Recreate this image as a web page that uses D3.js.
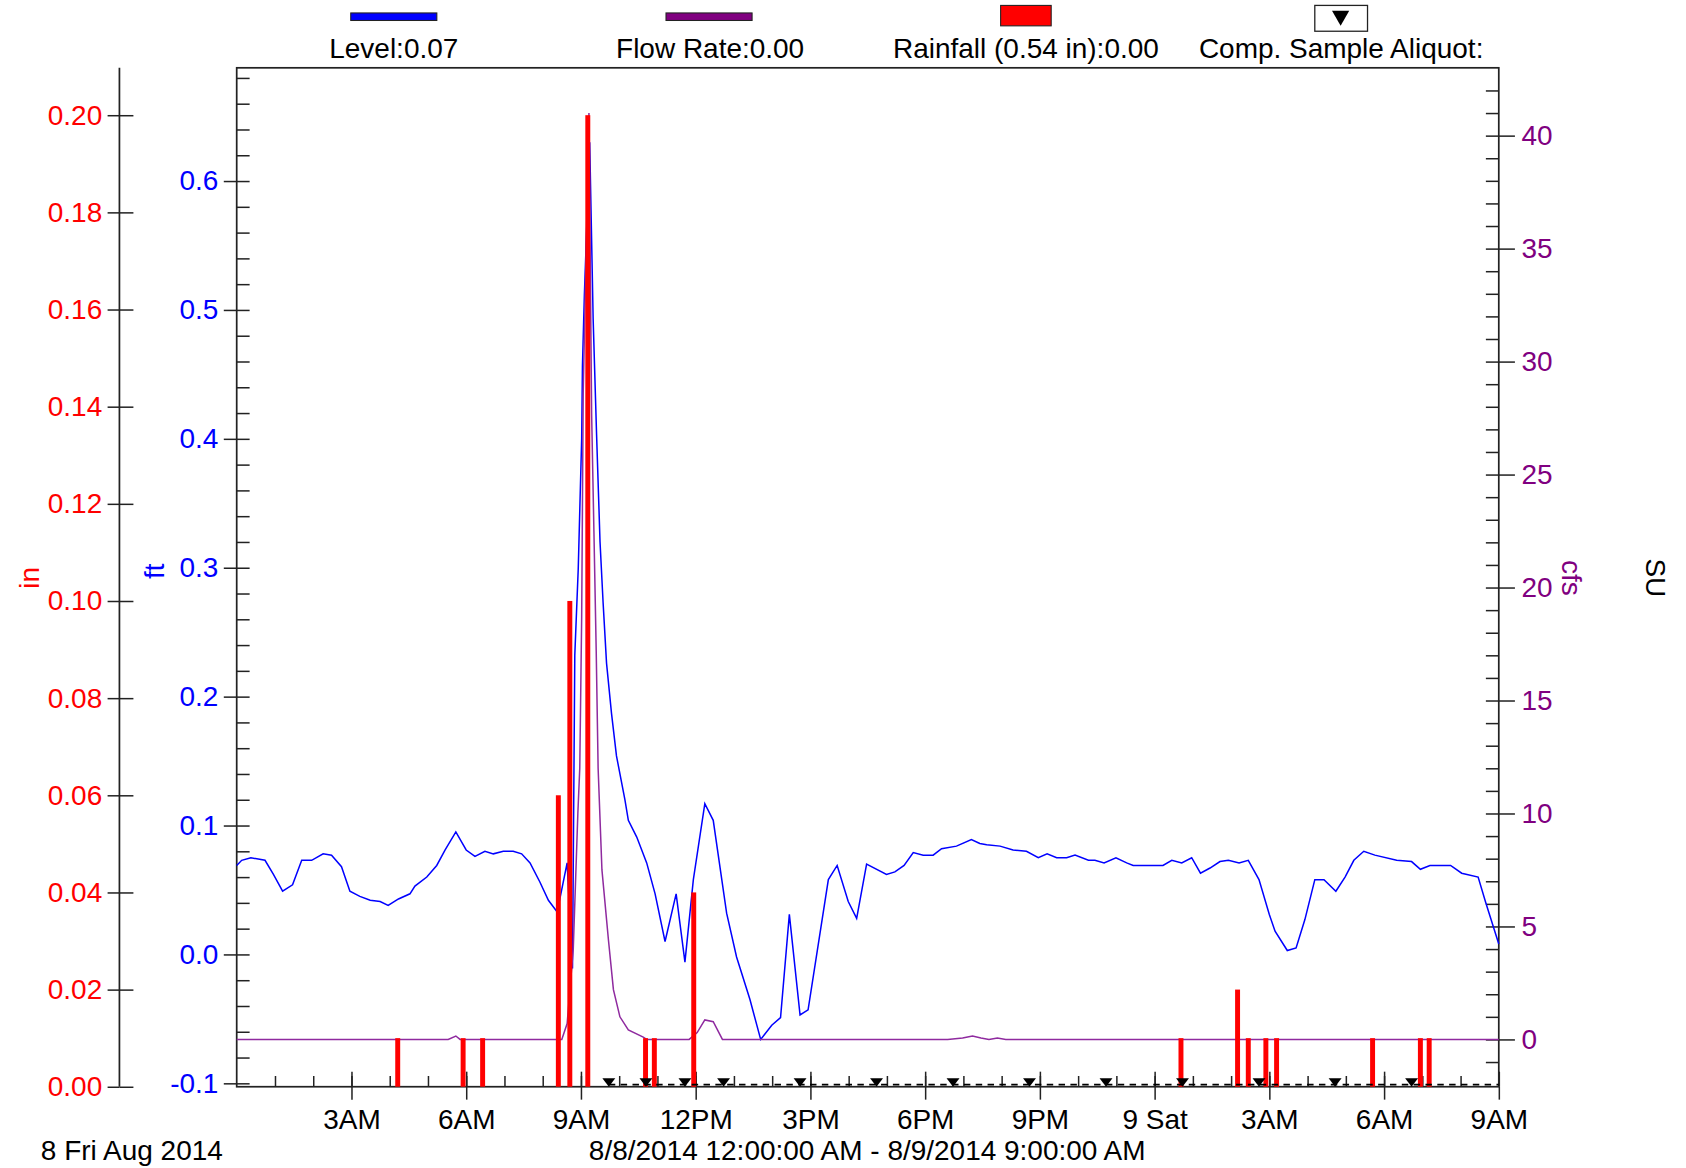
<!DOCTYPE html>
<meta charset="utf-8">

<!-- Load d3.js -->
<script src="https://d3js.org/d3.v7.min.js"></script>

<style>
  body { margin: 0; background: #fff; }
  text { font-family: "Liberation Sans", Arial, sans-serif; }
</style>

<!-- Create a div where the graph will take place -->
<div id="my_dataviz"></div>

<script>

// all times are hours after 8/8/2014 12:00:00 AM
// Level (ft)
var levelData = [
  [0, 0.069], [0.13, 0.073], [0.37, 0.075], [0.74, 0.073], [0.96, 0.062], [1.2, 0.049],
  [1.46, 0.054], [1.7, 0.073], [1.96, 0.073], [2.26, 0.078], [2.48, 0.077], [2.74, 0.068],
  [2.96, 0.049], [3.22, 0.045], [3.49, 0.042], [3.75, 0.041], [3.96, 0.038], [4.23, 0.043],
  [4.53, 0.047], [4.66, 0.053], [4.97, 0.060], [5.23, 0.069], [5.45, 0.081], [5.73, 0.095],
  [6.0, 0.081], [6.23, 0.076], [6.49, 0.080], [6.71, 0.078], [6.97, 0.080], [7.23, 0.080],
  [7.45, 0.078], [7.67, 0.071], [7.93, 0.056], [8.15, 0.042], [8.38, 0.033], [8.64, 0.071],
  [8.78, -0.011], [8.84, 0.232], [8.93, 0.299], [8.97, 0.344], [9.02, 0.400], [9.04, 0.456],
  [9.09, 0.511], [9.23, 0.630], [9.32, 0.493], [9.41, 0.403], [9.50, 0.320], [9.58, 0.273],
  [9.67, 0.226], [9.80, 0.187], [9.93, 0.154], [10.15, 0.120], [10.24, 0.104], [10.46, 0.091],
  [10.72, 0.071], [10.94, 0.047], [11.2, 0.010], [11.49, 0.047], [11.72, -0.006], [11.94, 0.058],
  [12.24, 0.117], [12.46, 0.104], [12.81, 0.032], [13.07, -0.002], [13.42, -0.035], [13.70, -0.066],
  [13.99, -0.055], [14.22, -0.049], [14.45, 0.031], [14.73, -0.047], [14.94, -0.043], [15.47, 0.058],
  [15.70, 0.069], [15.99, 0.041], [16.21, 0.028], [16.47, 0.070], [16.99, 0.062], [17.21, 0.064],
  [17.45, 0.069], [17.69, 0.079], [17.95, 0.077], [18.21, 0.077], [18.43, 0.082], [18.82, 0.084],
  [19.21, 0.089], [19.43, 0.086], [19.61, 0.085], [19.96, 0.084], [20.3, 0.081], [20.65, 0.080],
  [20.96, 0.075], [21.19, 0.078], [21.44, 0.075], [21.7, 0.075], [21.92, 0.077], [22.27, 0.073],
  [22.44, 0.073], [22.68, 0.071], [22.99, 0.075], [23.27, 0.071], [23.44, 0.069], [24.22, 0.069],
  [24.45, 0.073], [24.71, 0.071], [24.97, 0.075], [25.2, 0.063], [25.45, 0.067], [25.71, 0.072],
  [25.93, 0.073], [26.21, 0.071], [26.45, 0.073], [26.73, 0.058], [27.0, 0.031], [27.15, 0.018],
  [27.47, 0.003], [27.7, 0.005], [27.93, 0.027], [28.19, 0.058], [28.43, 0.058], [28.74, 0.049],
  [28.98, 0.060], [29.21, 0.073], [29.47, 0.080], [29.76, 0.077], [30.33, 0.073], [30.72, 0.072],
  [30.95, 0.066], [31.2, 0.069], [31.74, 0.069], [32.03, 0.063], [32.46, 0.060], [32.66, 0.040],
  [33.0, 0.008]
];

// Flow Rate (cfs)
var flowData = [
  [0, 0], [5.53, 0], [5.73, 0.15], [5.84, 0], [8.5, 0], [8.64, 0.7], [8.8, 4], [8.92, 10],
  [8.97, 12], [9.02, 18.7], [9.06, 28.6], [9.21, 41], [9.28, 27.7], [9.34, 22.5], [9.40, 17.2],
  [9.45, 12.0], [9.55, 7.5], [9.72, 4.4], [9.85, 2.2], [10.02, 1.0], [10.24, 0.42], [10.63, 0.1],
  [10.72, 0], [11.83, 0], [12.04, 0.3], [12.24, 0.86], [12.46, 0.78], [12.7, 0], [18.59, 0],
  [18.98, 0.06], [19.24, 0.15], [19.46, 0.06], [19.67, 0], [19.89, 0.06], [20.11, 0], [33, 0]
];

// Rainfall (in)
var rainHours  = [4.21, 5.92, 6.43, 8.41, 8.71, 9.18, 10.69, 10.92, 11.95, 24.69, 26.17, 26.45, 26.91, 27.19, 29.7, 30.95, 31.18];
var rainInches = [0.01, 0.01, 0.01, 0.06, 0.10, 0.20, 0.01, 0.01, 0.04, 0.01, 0.02, 0.01, 0.01, 0.01, 0.01, 0.01, 0.01];

// Comp. Sample Aliquot events
var sampleHours = [9.73, 10.7, 11.72, 12.73, 14.73, 16.73, 18.73, 20.73, 22.73, 24.73, 26.73, 28.72, 30.72];

// tick labels
var xTickHours  = [3, 6, 9, 12, 15, 18, 21, 24, 27, 30, 33];
var xTickLabels = ["3AM", "6AM", "9AM", "12PM", "3PM", "6PM", "9PM", "9 Sat", "3AM", "6AM", "9AM"];
var inTicks  = [0, 0.02, 0.04, 0.06, 0.08, 0.10, 0.12, 0.14, 0.16, 0.18, 0.20];
var ftTicks  = [-0.1, 0, 0.1, 0.2, 0.3, 0.4, 0.5, 0.6];
var cfsTicks = [0, 5, 10, 15, 20, 25, 30, 35, 40];

var legendLabels = ["Level:0.07", "Flow Rate:0.00", "Rainfall (0.54 in):0.00", "Comp. Sample Aliquot:"];

// drawing is done in a 1567 wide frame and scaled up to the window
var W = 1567, H = 1085.5;
var pLeft = 220, pRight = 1393, pTop = 63, pBottom = 1010;
var fs = 26;

var t0 = new Date(2014, 7, 8, 0, 0);
function hr(h) { return new Date(t0.getTime() + h * 3600000); }

var svg = d3.select("#my_dataviz")
  .append("svg")
    .attr("width", 1686)
    .attr("height", 1168)
    .attr("viewBox", "0 0 " + W + " " + H);

// scales
var x = d3.scaleTime().domain([hr(0), hr(33)]).range([pLeft, pRight]);
var yIn = d3.scaleLinear().domain([0, 0.20975]).range([pBottom, pTop]);
var yFt = d3.scaleLinear().domain([-0.10267, 0.68781]).range([pBottom, pTop]);
var yCfs = d3.scaleLinear().domain([-2.095, 43.0]).range([pBottom, pTop]);

function styleAxis(g, color) {
  g.select(".domain").remove();
  g.selectAll(".tick line").attr("stroke", "#222").attr("stroke-width", 1.4);
  g.selectAll(".tick text").attr("fill", color).style("font-size", fs + "px")
    .style("font-family", "'Liberation Sans', Arial, sans-serif");
}

// red "in" axis
var inAxis = svg.append("g").attr("transform", "translate(111,0)")
  .call(d3.axisLeft(yIn).tickValues(inTicks).tickSize(11).tickSizeOuter(0).tickPadding(5)
    .tickFormat(function(d) { return d.toFixed(2); }));
styleAxis(inAxis, "#ff0000");
var inAxis2 = svg.append("g").attr("transform", "translate(111,0)")
  .call(d3.axisRight(yIn).tickValues(inTicks).tickSize(13).tickFormat(""));
styleAxis(inAxis2, "#000");
svg.append("line").attr("x1", 111).attr("x2", 111).attr("y1", pTop).attr("y2", pBottom)
  .attr("stroke", "#222").attr("stroke-width", 1.6);

// blue "ft" axis
var ftMinor = d3.range(-5, 35).map(function(i) { return i * 0.02; });
var ftAxis = svg.append("g").attr("transform", "translate(" + pLeft + ",0)")
  .call(d3.axisLeft(yFt).tickValues(ftTicks).tickSize(12).tickPadding(5)
    .tickFormat(function(d) { return d.toFixed(1); }));
styleAxis(ftAxis, "#0000ff");
var ftAxis2 = svg.append("g").attr("transform", "translate(" + pLeft + ",0)")
  .call(d3.axisRight(yFt).tickValues(ftMinor).tickSize(12).tickFormat(""));
styleAxis(ftAxis2, "#000");

// purple "cfs" axis
var cfsMinor = d3.range(-1, 43);
var cfsAxis = svg.append("g").attr("transform", "translate(" + pRight + ",0)")
  .call(d3.axisRight(yCfs).tickValues(cfsTicks).tickSize(15).tickPadding(6));
styleAxis(cfsAxis, "#800080");
var cfsAxis2 = svg.append("g").attr("transform", "translate(" + pRight + ",0)")
  .call(d3.axisLeft(yCfs).tickValues(cfsMinor).tickSize(12).tickFormat(""));
styleAxis(cfsAxis2, "#000");

// time axis
var xAxis = svg.append("g").attr("transform", "translate(0," + pBottom + ")")
  .call(d3.axisBottom(x).tickValues(xTickHours.map(hr)).tickSize(12).tickPadding(9)
    .tickFormat(function(d, i) { return xTickLabels[i]; }));
styleAxis(xAxis, "#000");
var xAxis2 = svg.append("g").attr("transform", "translate(0," + pBottom + ")")
  .call(d3.axisTop(x).tickValues(d3.range(1, 33).map(hr)).tickSize(10).tickFormat(""));
styleAxis(xAxis2, "#000");
var xAxis3 = svg.append("g").attr("transform", "translate(0," + pBottom + ")")
  .call(d3.axisTop(x).tickValues(xTickHours.map(hr)).tickSize(14).tickFormat(""));
styleAxis(xAxis3, "#000");

// plot frame
svg.append("rect")
  .attr("x", pLeft).attr("y", pTop)
  .attr("width", pRight - pLeft).attr("height", pBottom - pTop)
  .attr("fill", "none").attr("stroke", "#222").attr("stroke-width", 1.6);

// level line
var levelLine = d3.line()
  .x(function(d) { return x(hr(d[0])); })
  .y(function(d) { return yFt(d[1]); });
svg.append("path").datum(levelData)
  .attr("d", levelLine)
  .attr("fill", "none").attr("stroke", "#0000ff").attr("stroke-width", 1.4);

// flow line
var flowLine = d3.line()
  .x(function(d) { return x(hr(d[0])); })
  .y(function(d) { return yCfs(d[1]); });
svg.append("path").datum(flowData)
  .attr("d", flowLine)
  .attr("fill", "none").attr("stroke", "#8f2a9f").attr("stroke-width", 1.4);

// rainfall bars
svg.selectAll("rect.rain")
  .data(rainHours)
  .enter()
  .append("rect")
    .attr("class", "rain")
    .attr("x", function(d) { return x(hr(d)) - 2.3; })
    .attr("y", function(d, i) { return yIn(rainInches[i]); })
    .attr("width", 4.6)
    .attr("height", function(d, i) { return yIn(0) - yIn(rainInches[i]); })
    .attr("fill", "#ff0000");

// sample aliquot markers
svg.append("line")
  .attr("x1", x(hr(sampleHours[0]))).attr("x2", pRight)
  .attr("y1", pBottom - 2).attr("y2", pBottom - 2)
  .attr("stroke", "#000").attr("stroke-width", 1.5).attr("stroke-dasharray", "6,5");
svg.selectAll("path.sample")
  .data(sampleHours)
  .enter()
  .append("path")
    .attr("class", "sample")
    .attr("d", function(d) {
      var cx = x(hr(d));
      return "M" + (cx - 6) + "," + (pBottom - 8) + "h12l-6,8z";
    })
    .attr("fill", "#000");

// legend
var lg = svg.append("g");
lg.append("rect").attr("x", 326).attr("y", 12).attr("width", 80).attr("height", 7)
  .attr("fill", "#0000ff").attr("stroke", "#222").attr("stroke-width", 1);
lg.append("rect").attr("x", 619).attr("y", 12).attr("width", 80).attr("height", 7)
  .attr("fill", "#800080").attr("stroke", "#222").attr("stroke-width", 1);
lg.append("rect").attr("x", 930).attr("y", 5).attr("width", 47).attr("height", 19)
  .attr("fill", "#ff0000").attr("stroke", "#222").attr("stroke-width", 1);
lg.append("rect").attr("x", 1222).attr("y", 5).attr("width", 49).attr("height", 24)
  .attr("fill", "#fff").attr("stroke", "#222").attr("stroke-width", 1.2);
lg.append("path").attr("d", "M1238,10h16l-8,14z").attr("fill", "#000");

var legendX = [366, 660, 953.5, 1246.5];
lg.selectAll("text.leg")
  .data(legendLabels)
  .enter()
  .append("text")
    .attr("class", "leg")
    .attr("x", function(d, i) { return legendX[i]; })
    .attr("y", 54)
    .attr("text-anchor", "middle")
    .style("font-size", fs + "px")
    .attr("fill", "#000")
    .text(function(d) { return d; });

// axis titles
function vTitle(txt, tx, ty, rot, color) {
  svg.append("text")
    .attr("transform", "translate(" + tx + "," + ty + ") rotate(" + rot + ")")
    .attr("text-anchor", "middle")
    .style("font-size", fs + "px")
    .attr("fill", color)
    .text(txt);
}
vTitle("in", 36, 537, -90, "#ff0000");
vTitle("ft", 152, 531, -90, "#0000ff");
vTitle("cfs", 1452, 537, 90, "#800080");
vTitle("SU", 1530, 537, 90, "#000");

// bottom texts
svg.append("text").attr("x", 38).attr("y", 1078)
  .style("font-size", fs + "px").attr("fill", "#000")
  .text("8 Fri Aug 2014");
svg.append("text").attr("x", 806).attr("y", 1078)
  .attr("text-anchor", "middle")
  .style("font-size", fs + "px").attr("fill", "#000")
  .text("8/8/2014 12:00:00 AM - 8/9/2014 9:00:00 AM");

</script>
</body>
</html>
